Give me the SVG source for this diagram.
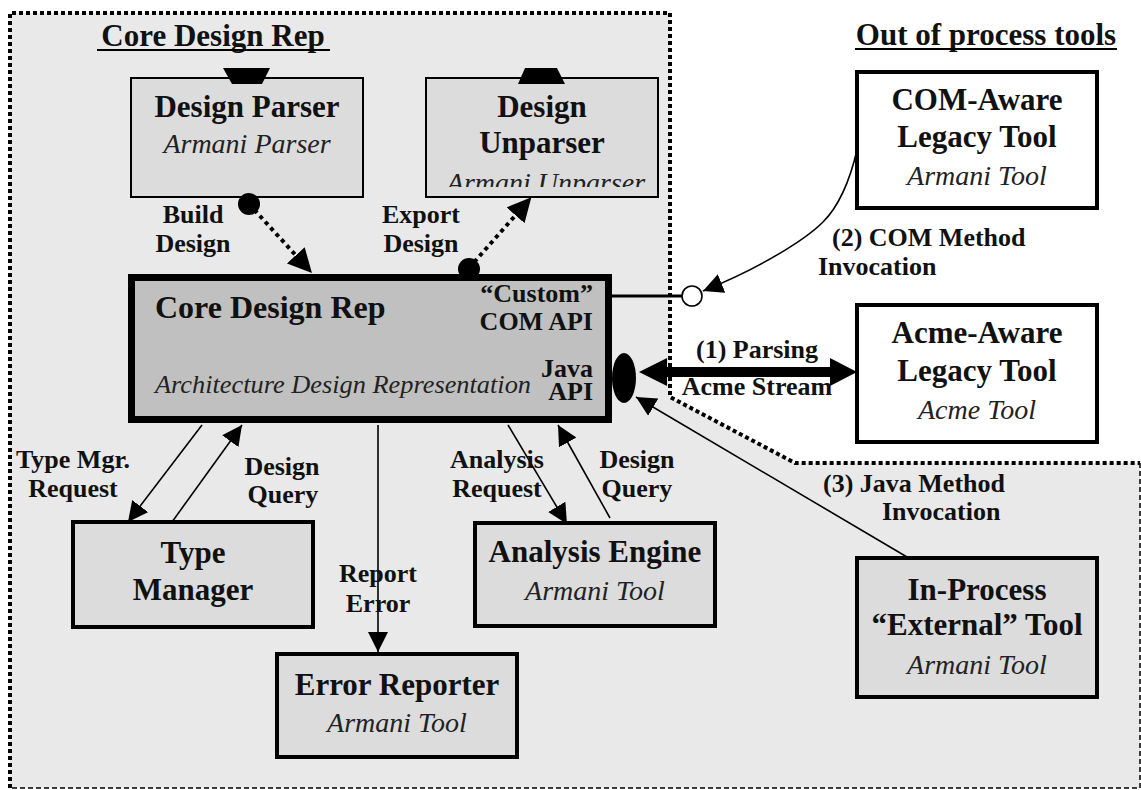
<svg xmlns="http://www.w3.org/2000/svg" width="1141" height="790" viewBox="0 0 1141 790">
<style>
text{font-family:"Liberation Serif","Times New Roman",serif;fill:#111}
.t{font-weight:bold;font-size:31px;text-anchor:middle}
.i{font-style:italic;font-size:28px;text-anchor:middle;fill:#222}
.l{font-weight:bold;font-size:26px;text-anchor:middle}
.ls{font-weight:bold;font-size:26px}
.box{fill:#dcdcdc;stroke:#000;stroke-width:4}
.thin{fill:#dcdcdc;stroke:#000;stroke-width:2}
.wbox{fill:#fff;stroke:#000;stroke-width:4}
.ln{fill:none;stroke:#000;stroke-width:1.6}
.dot{fill:none;stroke:#000;stroke-width:4;stroke-dasharray:4 4}
</style>
<defs>
<marker id="ah" viewBox="0 0 20 20" refX="20" refY="10" markerWidth="20" markerHeight="20" markerUnits="userSpaceOnUse" orient="auto"><path d="M0,0 L20,10 L0,20 Z" fill="#000"/></marker>
<marker id="ahb" viewBox="0 0 24 24" refX="0" refY="12" markerWidth="24" markerHeight="24" markerUnits="userSpaceOnUse" orient="auto"><path d="M0,0 L24,12 L0,24 Z" fill="#000"/></marker>
<clipPath id="clipU"><rect x="428" y="80" width="228" height="107"/></clipPath>
</defs>
<g id="boundary">
<path d="M10,13 L670,13 L670,397 L795,463 L1140,463 L1140,788 L10,788 Z" fill="#e9e9e9"/>
<path d="M10,788 L10,13 L670,13 L670,397 L795,463 L1140,463" fill="none" stroke="#000" stroke-width="4" stroke-dasharray="4 3"/>
<path d="M1140,463 L1140,788 L10,788" fill="none" stroke="#000" stroke-width="1.5" stroke-dasharray="5 3"/>
</g>
<g id="titles">
<text class="t" x="213" y="46">Core Design Rep</text>
<line x1="97" y1="50" x2="330" y2="50" stroke="#000" stroke-width="2"/>
<text class="t" x="986" y="45">Out of process tools</text>
<line x1="855" y1="49" x2="1117" y2="49" stroke="#000" stroke-width="2"/>
</g>
<g id="design-parser">
<rect class="thin" x="131" y="78" width="232" height="119"/>
<polygon points="223,68 270,68 262,84 232,84" fill="#000"/>
<text class="t" x="247" y="117">Design Parser</text>
<text class="i" x="247" y="153">Armani Parser</text>
</g>
<g id="design-unparser">
<rect class="thin" x="426" y="78" width="232" height="119"/>
<polygon points="525,68 557,68 565,84 518,84" fill="#000"/>
<text class="t" x="542" y="117">Design</text>
<text class="t" x="542" y="153">Unparser</text>
<text class="i" x="546" y="192" clip-path="url(#clipU)">Armani Unparser</text>
</g>
<g id="core-design-rep">
<rect x="131.5" y="277.5" width="477" height="142" fill="#c0c0c0" stroke="#000" stroke-width="7"/>
<text class="t" x="155" y="318" style="text-anchor:start;font-size:32px">Core Design Rep</text>
<text class="i" x="155" y="393" style="text-anchor:start;font-size:26px" textLength="376" lengthAdjust="spacingAndGlyphs">Architecture Design Representation</text>
<text class="ls" x="593" y="302" text-anchor="end">“Custom”</text>
<text class="ls" x="593" y="330" text-anchor="end">COM API</text>
<text class="ls" x="593" y="377" text-anchor="end">Java</text>
<text class="ls" x="593" y="400" text-anchor="end">API</text>
<ellipse cx="624" cy="378" rx="12" ry="25" fill="#000"/>
</g>
<g id="com-aware-tool">
<rect class="wbox" x="857" y="72" width="240" height="136"/>
<text class="t" x="977" y="110">COM-Aware</text>
<text class="t" x="977" y="147">Legacy Tool</text>
<text class="i" x="977" y="185">Armani Tool</text>
</g>
<g id="acme-aware-tool">
<rect class="wbox" x="857" y="305" width="240" height="137"/>
<text class="t" x="977" y="343">Acme-Aware</text>
<text class="t" x="977" y="381">Legacy Tool</text>
<text class="i" x="977" y="419">Acme Tool</text>
</g>
<g id="type-manager">
<rect class="box" x="73" y="522" width="240" height="105"/>
<text class="t" x="193" y="563">Type</text>
<text class="t" x="193" y="600">Manager</text>
</g>
<g id="analysis-engine">
<rect class="box" x="475" y="523" width="240" height="103"/>
<text class="t" x="595" y="562">Analysis Engine</text>
<text class="i" x="595" y="600">Armani Tool</text>
</g>
<g id="error-reporter">
<rect class="box" x="277" y="654" width="240" height="103"/>
<text class="t" x="397" y="695">Error Reporter</text>
<text class="i" x="397" y="732">Armani Tool</text>
</g>
<g id="in-process-tool">
<rect class="box" x="857" y="558" width="240" height="139"/>
<text class="t" x="977" y="600">In-Process</text>
<text class="t" x="977" y="635">“External” Tool</text>
<text class="i" x="977" y="674">Armani Tool</text>
</g>
<g id="connectors">
<path class="dot" d="M249,204 L295.8,255.3" marker-end="url(#ahb)"/>
<circle cx="249" cy="204" r="11" fill="#000"/>
<path class="dot" d="M469,268 L515.5,215.3" marker-end="url(#ahb)"/>
<circle cx="469" cy="269" r="11" fill="#000"/>
<line x1="612" y1="296" x2="682" y2="296" stroke="#000" stroke-width="3"/>
<circle cx="692" cy="296" r="10" fill="#fff" stroke="#000" stroke-width="1.6"/>
<path class="ln" d="M857,150 C850,180 838,207 823,222 C805,240 760,268 703,291" marker-end="url(#ah)"/>
<polygon points="639,372 667,358 667,367 830,367 830,358 857,372 830,386 830,377 667,377 667,386" fill="#000"/>
<path class="ln" d="M202,425 L128,522" marker-end="url(#ah)"/>
<path class="ln" d="M172,522 L242,425" marker-end="url(#ah)"/>
<path class="ln" d="M378,425 L378,652" marker-end="url(#ah)"/>
<path class="ln" d="M508,425 L567,524" marker-end="url(#ah)"/>
<path class="ln" d="M610,518 L558,425" marker-end="url(#ah)"/>
<path class="ln" d="M907,557 L636,397" marker-end="url(#ah)"/>
</g>
<g id="labels">
<text class="l" x="193" y="223">Build</text>
<text class="l" x="193" y="252">Design</text>
<text class="l" x="421" y="223">Export</text>
<text class="l" x="421" y="252">Design</text>
<text class="ls" x="832" y="246">(2) COM Method</text>
<text class="ls" x="818" y="275">Invocation</text>
<text class="l" x="757" y="358">(1) Parsing</text>
<text class="l" x="757" y="395">Acme Stream</text>
<text class="l" x="73" y="468">Type Mgr.</text>
<text class="l" x="73" y="497">Request</text>
<text class="l" x="282" y="475">Design</text>
<text class="l" x="283" y="503">Query</text>
<text class="l" x="378" y="582">Report</text>
<text class="l" x="378" y="612">Error</text>
<text class="l" x="497" y="468">Analysis</text>
<text class="l" x="497" y="497">Request</text>
<text class="l" x="637" y="468">Design</text>
<text class="l" x="637" y="497">Query</text>
<text class="ls" x="823" y="492">(3) Java Method</text>
<text class="ls" x="882" y="520">Invocation</text>
</g>
</svg>
